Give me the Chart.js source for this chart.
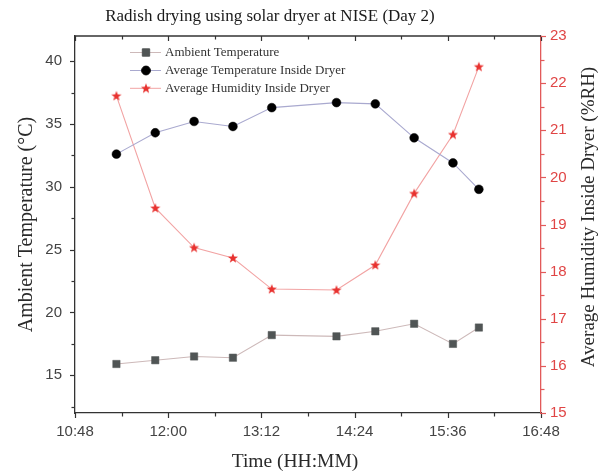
<!DOCTYPE html>
<html>
<head>
<meta charset="utf-8">
<script src="https://cdn.jsdelivr.net/npm/chart.js@4.4.1/dist/chart.umd.min.js"></script>
<style>
  html, body { margin: 0; padding: 0; background: #ffffff; }
  #wrap { width: 614px; height: 472px; position: relative; }
</style>
</head>
<body>
<div id="wrap"><canvas id="c" width="614" height="472"></canvas></div>
<script>
// ---- data ----
const times = ['11:20', '11:50', '12:20', '12:50', '13:20', '14:10', '14:40', '15:10', '15:40', '16:00'];
const ambientTemp = [15.9, 16.2, 16.5, 16.4, 18.2, 18.1, 18.5, 19.1, 17.5, 18.8];
const insideTemp = [32.6, 34.3, 35.2, 34.8, 36.3, 36.7, 36.6, 33.9, 31.9, 29.8];
const insideHumidity = [21.73, 19.35, 18.51, 18.29, 17.63, 17.61, 18.14, 19.66, 20.91, 22.35];
const xTickLabels = ['10:48', '12:00', '13:12', '14:24', '15:36', '16:48'];
const leftTicks = [15, 20, 25, 30, 35, 40];
const rightTicks = [15, 16, 17, 18, 19, 20, 21, 22, 23];
const seriesNames = ['Ambient Temperature', 'Average Temperature Inside Dryer', 'Average Humidity Inside Dryer'];
const chartTitle = 'Radish drying using solar dryer at NISE (Day 2)';
const xTitle = 'Time (HH:MM)';
const yTitle = 'Ambient Temperature (°C)';
const y1Title = 'Average Humidity Inside Dryer (%RH)';

const toMin = s => { const [h, m] = s.split(':').map(Number); return h * 60 + m; };
const fmt = v => { const h = Math.floor(v / 60), m = Math.round(v - h * 60); return h + ':' + String(m).padStart(2, '0'); };
const xTickValues = xTickLabels.map(toMin);
const xMin = xTickValues[0], xMax = xTickValues[xTickValues.length - 1];

const pts = arr => arr.map((v, i) => ({ x: toMin(times[i]), y: v }));

// filled 5-point star marker
function makeStar(color) {
  const c = document.createElement('canvas');
  c.width = 12; c.height = 12;
  const g = c.getContext('2d');
  g.fillStyle = color;
  g.beginPath();
  for (let i = 0; i < 10; i++) {
    const r = i % 2 === 0 ? 5.3 : 2.2;
    const a = -Math.PI / 2 + i * Math.PI / 5;
    const px = 6 + r * Math.cos(a), py = 6.4 + r * Math.sin(a);
    if (i === 0) g.moveTo(px, py); else g.lineTo(px, py);
  }
  g.closePath();
  g.fill();
  return c;
}
const starImg = makeStar('#e8322f');

const serif = "'Liberation Serif', 'Times New Roman', serif";
const sans = "'Liberation Sans', Arial, sans-serif";

// frame, minor ticks, titles, legend
const framePlugin = {
  id: 'framePlugin',
  afterDraw(chart) {
    const ctx = chart.ctx, a = chart.chartArea;
    const x = chart.scales.x, y = chart.scales.y, y1 = chart.scales.y1;
    ctx.save();
    // top border
    ctx.strokeStyle = '#333';
    ctx.lineWidth = 1.3;
    ctx.beginPath(); ctx.moveTo(a.left, a.top); ctx.lineTo(a.right, a.top); ctx.stroke();
    // x ticks: bottom outward, top inward
    ctx.lineWidth = 1.2;
    for (let v = xMin; v <= xMax + 0.01; v += 36) {
      const major = ((v - xMin) % 72) === 0;
      const px = Math.round(x.getPixelForValue(v)) + 0.5;
      const L = major ? 5 : 3.5;
      ctx.beginPath();
      ctx.moveTo(px, a.bottom); ctx.lineTo(px, a.bottom + L);
      ctx.moveTo(px, a.top); ctx.lineTo(px, a.top + L);
      ctx.stroke();
    }
    // left y ticks outward
    for (let v = 12.5; v <= 42; v += 2.5) {
      const major = Math.abs(v % 5) < 1e-6;
      const py = Math.round(y.getPixelForValue(v)) + 0.5;
      const L = major ? 5 : 3.5;
      ctx.beginPath(); ctx.moveTo(a.left, py); ctx.lineTo(a.left - L, py); ctx.stroke();
    }
    // right y ticks outward (red)
    ctx.strokeStyle = '#e25a5a';
    for (let v = 15; v <= 23.001; v += 0.5) {
      const major = Math.abs(v - Math.round(v)) < 1e-6;
      const py = Math.round(y1.getPixelForValue(v)) + 0.5;
      const L = major ? 5 : 3.5;
      ctx.beginPath(); ctx.moveTo(a.right, py); ctx.lineTo(a.right + L, py); ctx.stroke();
    }
    ctx.restore();

    // chart title
    ctx.save();
    ctx.fillStyle = '#1a1a1a';
    ctx.font = '17px ' + serif;
    ctx.textAlign = 'center';
    ctx.textBaseline = 'middle';
    ctx.fillText(chartTitle, 270, 16.5);
    // x axis title
    ctx.fillStyle = '#2a2a2a';
    ctx.font = '19.5px ' + serif;
    ctx.fillText(xTitle, 295, 462);
    ctx.restore();

    // right axis title (reads bottom to top)
    ctx.save();
    ctx.fillStyle = '#2a2a2a';
    ctx.font = '19px ' + serif;
    ctx.textAlign = 'center';
    ctx.textBaseline = 'middle';
    ctx.translate(589, 217);
    ctx.rotate(-Math.PI / 2);
    ctx.fillText(y1Title, 0, 0);
    ctx.restore();

    // legend
    ctx.save();
    const rowY = [a.top + 16.5, a.top + 34.5, a.top + 52.3];
    chart.data.datasets.forEach((ds, i) => {
      const yy = rowY[i];
      ctx.strokeStyle = ds.borderColor;
      ctx.lineWidth = 1;
      ctx.beginPath(); ctx.moveTo(a.left + 55, yy); ctx.lineTo(a.left + 86, yy); ctx.stroke();
      ctx.fillStyle = ds.pointBackgroundColor;
      ctx.strokeStyle = ds.pointBorderColor;
      Chart.helpers.drawPoint(ctx, { pointStyle: ds.pointStyle, radius: ds.pointRadius, borderWidth: ds.pointBorderWidth, rotation: 0 }, a.left + 71, yy);
      ctx.fillStyle = '#333';
      ctx.font = '13px ' + serif;
      ctx.textAlign = 'left';
      ctx.textBaseline = 'middle';
      ctx.fillText(ds.label, a.left + 90, yy + 0.5);
    });
    ctx.restore();
  }
};

new Chart(document.getElementById('c'), {
  type: 'line',
  data: {
    datasets: [
      {
        label: seriesNames[0], data: pts(ambientTemp), yAxisID: 'y',
        borderColor: '#cdb9b9', borderWidth: 1.1,
        pointStyle: 'rect', pointRadius: 5.2, pointBorderWidth: 0.5,
        pointBackgroundColor: '#505555', pointBorderColor: '#505555'
      },
      {
        label: seriesNames[1], data: pts(insideTemp), yAxisID: 'y',
        borderColor: '#a9a9cf', borderWidth: 1.1,
        pointStyle: 'circle', pointRadius: 4.4, pointBorderWidth: 0.5,
        pointBackgroundColor: '#000000', pointBorderColor: '#000000'
      },
      {
        label: seriesNames[2], data: pts(insideHumidity), yAxisID: 'y1',
        borderColor: '#f2a3a3', borderWidth: 1.1,
        pointStyle: starImg, pointRadius: 5, pointBorderWidth: 0,
        pointBackgroundColor: '#e8322f', pointBorderColor: '#e8322f'
      }
    ]
  },
  options: {
    responsive: false,
    animation: false,
    devicePixelRatio: 1,
    layout: { padding: { top: 36, left: 0, right: 0, bottom: 0 } },
    plugins: {
      legend: { display: false },
      tooltip: { enabled: false },
      title: { display: false }
    },
    scales: {
      x: {
        type: 'linear', position: 'bottom',
        min: xMin, max: xMax,
        afterBuildTicks: s => { s.ticks = xTickValues.map(v => ({ value: v })); },
        afterFit: s => { s.height = 59; },
        grid: { display: false, drawTicks: false },
        border: { display: true, color: '#333', width: 1.3 },
        ticks: {
          padding: 10, color: '#444', maxRotation: 0, autoSkip: false,
          font: { family: sans, size: 15 },
          callback: v => fmt(v)
        }
      },
      y: {
        type: 'linear', position: 'left',
        min: 12, max: 42,
        afterBuildTicks: s => { s.ticks = leftTicks.map(v => ({ value: v })); },
        afterFit: s => { s.width = 75; },
        grid: { display: false, drawTicks: false },
        border: { display: true, color: '#333', width: 1.3 },
        ticks: {
          padding: 13, color: '#444',
          font: { family: sans, size: 15 }
        },
        title: {
          display: true, text: yTitle, color: '#2a2a2a',
          font: { family: serif, size: 20, lineHeight: 1 },
          padding: { top: 17, bottom: 0 }
        }
      },
      y1: {
        type: 'linear', position: 'right',
        min: 15, max: 23,
        afterBuildTicks: s => { s.ticks = rightTicks.map(v => ({ value: v })); },
        afterFit: s => { s.width = 73; },
        grid: { display: false, drawTicks: false },
        border: { display: true, color: '#e25a5a', width: 1.3 },
        ticks: {
          padding: 9, color: '#e04545',
          font: { family: sans, size: 15 }
        }
      }
    }
  },
  plugins: [framePlugin]
});
</script>
</body>
</html>
